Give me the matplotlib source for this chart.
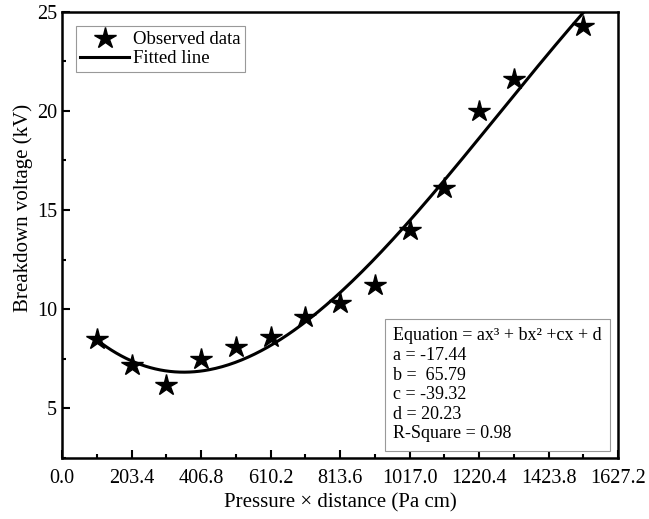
import matplotlib
matplotlib.use("Agg")
import matplotlib.pyplot as plt
import numpy as np
from matplotlib.ticker import MultipleLocator

# observed breakdown data
pd_values = [101.7, 203.4, 305.1, 406.8, 508.5, 610.2, 711.9, 813.6,
             915.3, 1017.0, 1118.7, 1220.4, 1322.1, 1525.5]
voltage = [8.5, 7.2, 6.2, 7.5, 8.1, 8.6, 9.6, 10.3,
           11.2, 14.0, 16.1, 20.0, 21.6, 24.3]

x_ticks = [0.0, 203.4, 406.8, 610.2, 813.6, 1017.0, 1220.4, 1423.8, 1627.2]
y_ticks = [5, 10, 15, 20, 25]

eq_lines = [
    "Equation = ax³ + bx² +cx + d",
    "a = -17.44",
    "b =  65.79",
    "c = -39.32",
    "d = 20.23",
    "R-Square = 0.98",
]

plt.rcParams["font.family"] = ["Liberation Serif", "DejaVu Serif"]

fig = plt.figure(figsize=(6.49, 5.19), dpi=100)
ax = fig.add_axes([0.0955, 0.1175, 0.857, 0.86])

# cubic fit of the observed points
coef = np.polyfit(pd_values, voltage, 3)
xs = np.linspace(min(pd_values), max(pd_values), 300)
ax.plot(xs, np.polyval(coef, xs), color="black", lw=2.2, label="Fitted line", zorder=2)
ax.plot(pd_values, voltage, linestyle="none", marker="*", ms=16, color="black",
        label="Observed data", zorder=3)

ax.set_xlim(0, 1627.2)
ax.set_ylim(2.5, 25)
ax.set_xticks(x_ticks)
ax.set_xticklabels([f"{v:.1f}" for v in x_ticks])
ax.set_yticks(y_ticks)
ax.xaxis.set_minor_locator(MultipleLocator(101.7))
ax.yaxis.set_minor_locator(MultipleLocator(2.5))
ax.tick_params(which="both", direction="in", top=False, right=False,
               labelsize=14.5, width=1.5)
ax.tick_params(which="major", length=6)
ax.tick_params(which="minor", length=3)
ax.tick_params(axis="x", pad=8)
for s in ax.spines.values():
    s.set_linewidth(1.8)

ax.set_xlabel("Pressure × distance (Pa cm)", fontsize=15)
ax.set_ylabel("Breakdown voltage (kV)", fontsize=15)
ax.yaxis.set_label_coords(-0.053, 0.56)

handles, labels = ax.get_legend_handles_labels()
leg = ax.legend(handles[::-1], labels[::-1], loc="upper left", fontsize=13.5,
                fancybox=False, edgecolor="#999999", framealpha=1,
                handlelength=2.6, handletextpad=0.2, borderpad=0.25,
                labelspacing=0.1, bbox_to_anchor=(0.008, 0.988))
leg.get_frame().set_linewidth(0.8)

ax.text(0.595, 0.035, "\n".join(eq_lines), transform=ax.transAxes,
        fontsize=13, va="bottom", ha="left", linespacing=1.2,
        bbox=dict(boxstyle="square,pad=0.45", fc="white", ec="#999999", lw=0.8))

fig.savefig("out.png", dpi=100)
